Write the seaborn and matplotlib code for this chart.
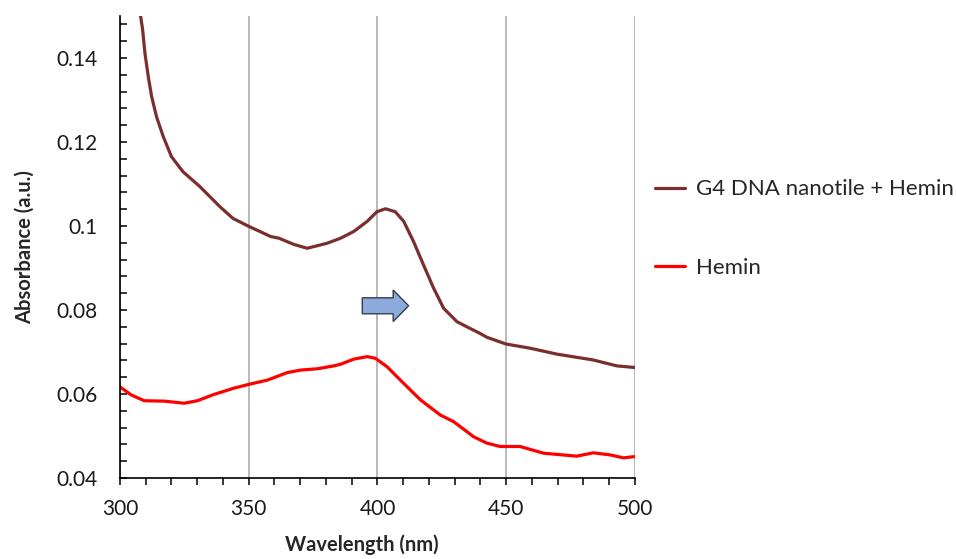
import numpy as np
import pandas as pd
import seaborn as sns
import matplotlib.pyplot as plt
from matplotlib.patches import FancyArrow
from matplotlib.ticker import MultipleLocator

# G4 DNA nanotile + Hemin
g4_nm = [300, 303, 306, 308.0, 308.8, 309.7, 311.0, 312.3, 314.2, 316.8, 320.0, 324.5,
         331.0, 338.8, 343.9, 350.4, 354.3, 358.5, 361.7, 367.6, 372.7, 380.5, 385.7,
         390.8, 396.0, 399.8, 403.1, 406.9, 410.2, 414.0, 417.9, 421.8, 425.7, 430.9,
         436.0, 439.9, 442.5, 449.9, 459.3, 469.6, 483.8, 492.9, 500]
g4_abs = [0.195, 0.176, 0.159, 0.150, 0.1467, 0.1411, 0.1355, 0.1308, 0.1260, 0.1213,
          0.1165, 0.1129, 0.1094, 0.1046, 0.1018, 0.0998, 0.0987, 0.0975, 0.0971, 0.0956,
          0.0947, 0.0959, 0.0971, 0.0987, 0.1011, 0.1034, 0.1041, 0.1034, 0.1011, 0.0963,
          0.0907, 0.0852, 0.0804, 0.0772, 0.0756, 0.0744, 0.0735, 0.0719, 0.0709, 0.0695,
          0.0681, 0.0667, 0.0663]

# Hemin
hem_nm = [300, 304.3, 309.4, 317.2, 324.9, 330.1, 336.5, 344.3, 350.1, 357.2, 365.0,
          370.2, 376.6, 383.1, 385.7, 390.8, 396.0, 399.2, 403.7, 408.9, 416.7, 424.4,
          429.6, 437.4, 442.5, 447.7, 450.9, 455.4, 464.5, 477.4, 483.8, 490.3, 495.5, 500]
hem_abs = [0.0617, 0.0598, 0.0584, 0.0583, 0.0578, 0.0584, 0.0599, 0.0614, 0.0623, 0.0633,
           0.0651, 0.0657, 0.0660, 0.0667, 0.0671, 0.0683, 0.0689, 0.0685, 0.0665, 0.0633,
           0.0586, 0.0550, 0.0534, 0.0498, 0.0483, 0.0475, 0.0475, 0.0475, 0.0459, 0.0452,
           0.0460, 0.0455, 0.0448, 0.0451]

labels = ["G4 DNA nanotile + Hemin", "Hemin"]
colors = ["#7a2e2e", "#ff0000"]

df = pd.concat([
    pd.DataFrame({"Wavelength": g4_nm, "Absorbance": g4_abs, "Sample": labels[0]}),
    pd.DataFrame({"Wavelength": hem_nm, "Absorbance": hem_abs, "Sample": labels[1]}),
])

sns.set_style("white")
plt.rcParams['font.family'] = ['Lato', 'DejaVu Sans']

fig = plt.figure(figsize=(9.56, 5.59), dpi=100)
ax = fig.add_axes([0.1255, 0.1449, 0.5387, 0.8265])

sns.lineplot(data=df, x="Wavelength", y="Absorbance", hue="Sample",
             palette=dict(zip(labels, colors)), linewidth=2.3, ax=ax, sort=False)

ax.set_xlim(300, 500)
ax.set_ylim(0.04, 0.15)
ax.xaxis.set_major_locator(MultipleLocator(50))
ax.xaxis.set_minor_locator(MultipleLocator(10))
ax.yaxis.set_minor_locator(MultipleLocator(0.004))
ax.set_yticks([0.04, 0.06, 0.08, 0.1, 0.12, 0.14])
ax.set_yticklabels(["0.04", "0.06", "0.08", "0.1", "0.12", "0.14"])

ax.grid(axis="x", which="major", color="#a6a6a6", linewidth=1.1)
ax.set_axisbelow(True)
for s in ["top", "right"]:
    ax.spines[s].set_visible(False)
for s in ["left", "bottom"]:
    ax.spines[s].set_color("black")
    ax.spines[s].set_linewidth(1.2)

ax.tick_params(axis="x", which="both", direction="out", length=5, width=1.1,
               color="black", bottom=True, labelsize=15, pad=10, labelcolor="#1a1a1a")
ax.tick_params(axis="y", which="both", direction="in", length=5, width=1.1,
               color="black", left=True, labelsize=15, pad=16, labelcolor="#1a1a1a")

ax.set_xlabel("Wavelength (nm)", fontsize=14.5, fontweight="bold")
ax.xaxis.label.set_va("center")
ax.xaxis.set_label_coords(0.47, -0.145)
ax.set_ylabel("Absorbance (a.u.)", fontsize=14.5, fontweight="bold", labelpad=16)

# blue block arrow marking the red shift
ax.add_patch(FancyArrow(394.1, 0.081, 12.0, 0, width=0.0038, head_width=0.0075,
                        head_length=6.0, length_includes_head=False,
                        facecolor="#8eaadb", edgecolor="#2f3e55", linewidth=1.0, zorder=5))

ax.legend_.remove()
handles, lbls = ax.get_legend_handles_labels()
fig.legend(handles, lbls, loc="upper left", bbox_to_anchor=(0.664, 0.715),
           frameon=False, fontsize=16, handlelength=1.35, handletextpad=0.5,
           labelspacing=2.65)

fig.savefig("out.png", dpi=100)
